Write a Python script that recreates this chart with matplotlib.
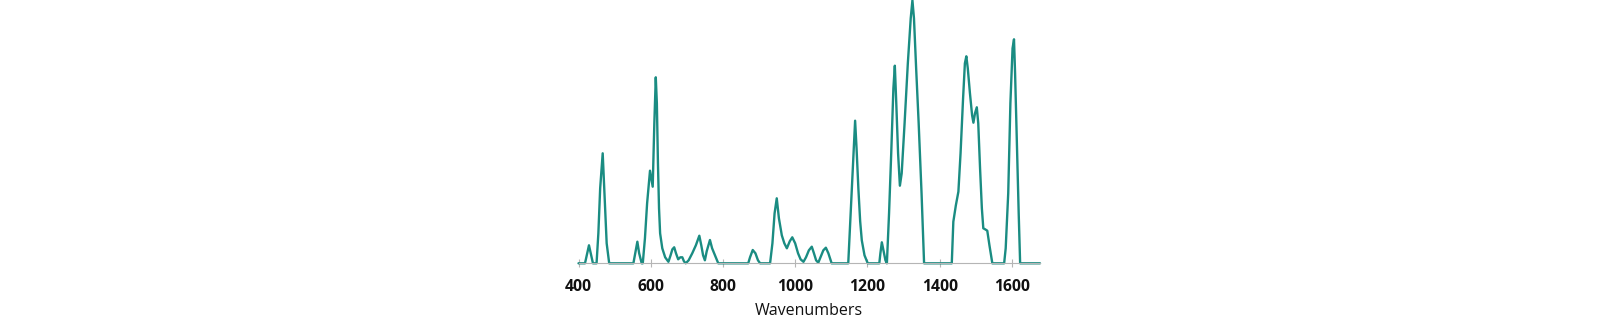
import matplotlib
matplotlib.use("Agg")
import matplotlib.pyplot as plt

# Raman-like spectrum (wavenumber, intensity in arbitrary units)
wavenumbers = [400, 418, 424, 429, 434, 440, 450, 455, 460, 467, 472, 478, 485,
               552, 557, 563, 568, 575, 578, 584, 590, 598, 602, 605.5, 610, 614,
               617, 620, 623, 626, 632, 640, 649, 655, 660, 665, 670, 676, 682,
               687.5, 692, 697, 705, 715, 725, 734.6, 740, 745, 750, 755, 764,
               770, 778, 787, 870, 875, 882.5, 890, 897, 903, 930.5, 937, 943,
               949, 955, 963, 970, 977, 985, 992, 1000, 1008, 1015, 1023, 1030,
               1038, 1046, 1052, 1058, 1064, 1070, 1078, 1085, 1092, 1101, 1147,
               1152, 1158, 1163, 1166, 1170, 1175, 1180, 1184.5, 1192, 1201, 1233,
               1236, 1240, 1245, 1250, 1254, 1260, 1266, 1272, 1276, 1280, 1285,
               1290, 1295, 1303, 1312, 1320, 1324.7, 1329, 1335, 1342, 1350, 1357,
               1433.7, 1438, 1445, 1452, 1458, 1465, 1470, 1474, 1478, 1484, 1490,
               1493.6, 1498, 1503, 1507, 1512, 1517, 1521, 1526, 1532, 1538, 1546,
               1578.7, 1583, 1590, 1596, 1602, 1606, 1609, 1614, 1619, 1623, 1678]
intensity = [0, 0, 10, 18, 10, 0, 0, 30, 75, 110, 70, 20, 0,
             0, 10, 21.6, 10, 0, 0, 25, 60, 92.6, 84, 76.6, 140, 186,
             160, 100, 55, 30, 15, 6, 1.5, 8, 14, 16, 10, 4, 6,
             6, 2, 0, 3, 10, 18, 27.6, 18, 8, 3, 12, 23.3,
             15, 8, 0, 0, 6, 13.3, 10, 3, 0, 0, 20, 50,
             65, 45, 28, 20, 15, 22, 26, 20, 10, 4, 1.5, 6,
             13, 16.6, 10, 3, 0.6, 6, 13, 15.6, 10, 0, 0,
             37, 82, 120, 142.6, 115, 75, 42, 23, 8, 0, 0,
             10, 21, 12, 3, 0, 50, 110, 175, 197.6, 160, 110,
             77.6, 90, 140, 200, 245, 263, 245, 195, 140, 70, 0,
             0, 41.6, 58, 71.6, 110, 165, 200, 207, 195, 170, 148,
             140.6, 150, 156, 140, 95, 55, 35, 34, 32.6, 18, 0,
             0, 15, 70, 160, 215, 224, 190, 120, 50, 0, 0]
xticks = [400, 600, 800, 1000, 1200, 1400, 1600]

fig = plt.figure(figsize=(16, 3.3), dpi=100)
ax = fig.add_axes([578.5 / 1600, 1 - 263.3 / 330, (1040 - 578.5) / 1600, 263.3 / 330])
ax.plot(wavenumbers, intensity, color="#1a8c82", lw=1.7, clip_on=False,
        solid_joinstyle="round", solid_capstyle="round")
ax.set_xlim(400, 1678)
ax.set_ylim(0, 263.3)
for s in ["top", "right", "left"]:
    ax.spines[s].set_visible(False)
ax.spines["bottom"].set_color("#b5b5b5")
ax.spines["bottom"].set_linewidth(0.8)
ax.set_yticks([])
ax.set_xticks(xticks)
ax.tick_params(axis="x", direction="inout", length=6, width=0.8, color="#b5b5b5", pad=8.5)
for lbl in ax.get_xticklabels():
    lbl.set_fontfamily("Open Sans")
    lbl.set_fontweight("bold")
    lbl.set_fontsize(11.3)
    lbl.set_color("#111111")
ax.set_xlabel("Wavenumbers", fontfamily="Open Sans", fontsize=11.5, fontweight="medium",
              color="#111111", labelpad=5.5)
fig.savefig("out.png", dpi=100)
